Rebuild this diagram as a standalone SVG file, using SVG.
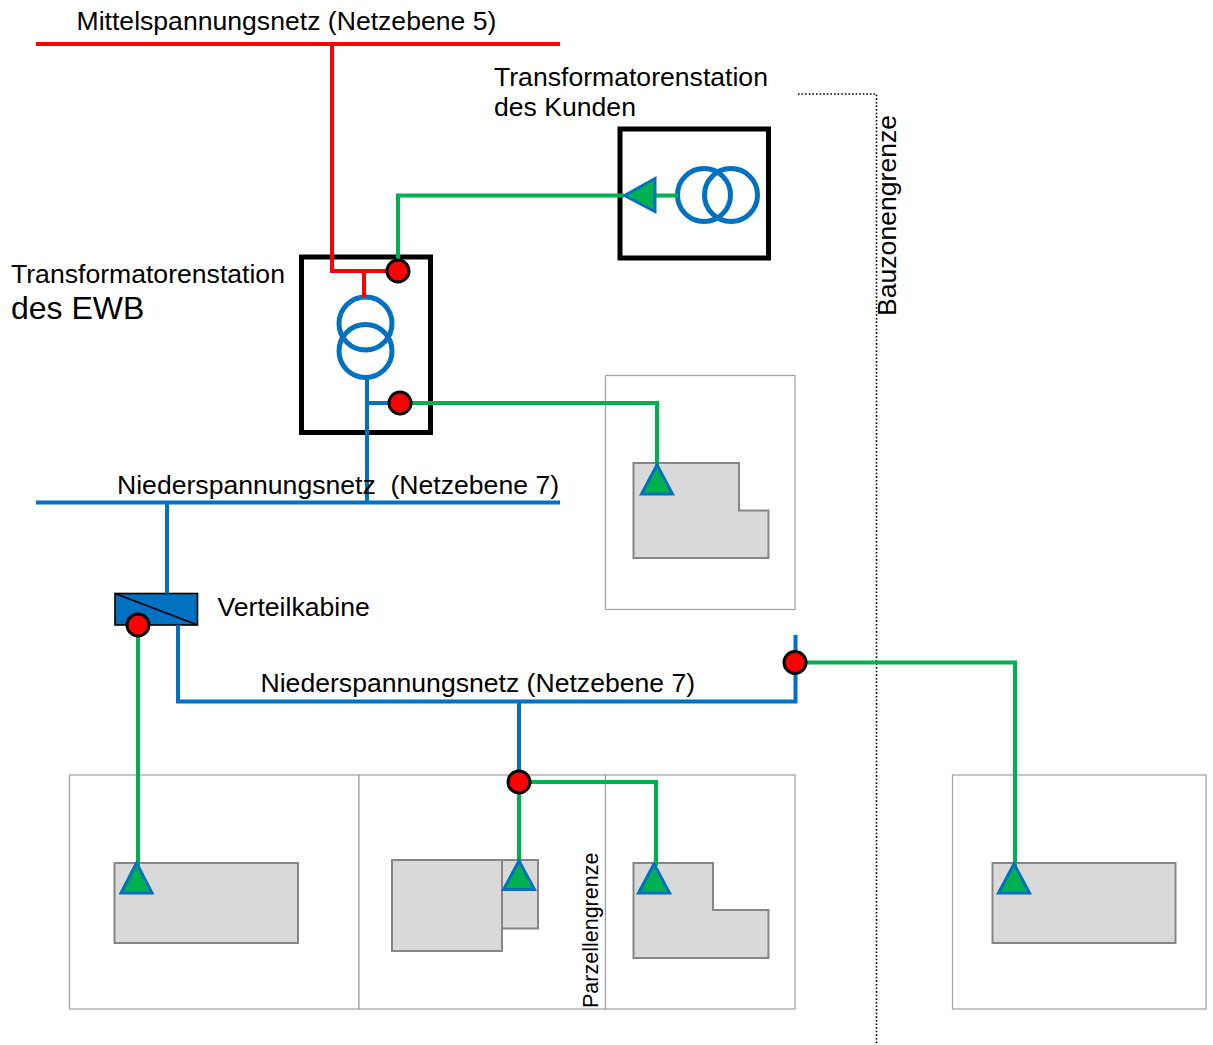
<svg xmlns="http://www.w3.org/2000/svg" width="1213" height="1045" viewBox="0 0 1213 1045">
<defs>
<style>
text{font-family:"Liberation Sans",Arial,sans-serif;font-size:26.6px;fill:#000}
.parcel{fill:#fff;stroke:#a6a6a6;stroke-width:1.3}
.bld{fill:#d9d9d9;stroke:#868686;stroke-width:2}
.station{fill:#fff;stroke:#000;stroke-width:5}
.coil{fill:none;stroke:#0070c0;stroke-width:5}
.red,.blue,.green{fill:none;stroke-width:4}
.red{stroke:#ff0000}.blue{stroke:#0070c0}.green{stroke:#00b050}
.tri{fill:#00b050;stroke:#0070c0;stroke-width:3;stroke-linejoin:miter}
.dot{fill:#ff0000;stroke:#000;stroke-width:3}
.border{fill:none;stroke:#000;stroke-width:1.6;stroke-dasharray:1.6 2}
</style>
</defs>
<g id="parcels">
<rect class="parcel" x="605.500" y="375.500" width="189.500" height="234"/>
<rect class="parcel" x="69.500" y="775" width="289.500" height="234"/>
<rect class="parcel" x="359" y="775" width="246.500" height="234"/>
<rect class="parcel" x="605.500" y="775" width="189.500" height="234"/>
<rect class="parcel" x="952.500" y="775" width="253.500" height="234"/>
</g>
<g id="buildings">
<path class="bld" d="M633.500 463H739V510.500H768.500V558H633.500Z"/>
<rect class="bld" x="114.500" y="863" width="183.500" height="80"/>
<path class="bld" d="M453 860H538V928.500H502V860"/>
<rect class="bld" x="392" y="860" width="110" height="91"/>
<path class="bld" d="M633.500 863H713V910H768.500V958H633.500Z"/>
<rect class="bld" x="992.500" y="863" width="183" height="80"/>
</g>
<path id="bauzonengrenze" class="border" d="M798 94H876.500V1045"/>
<g id="station-ewb">
<rect class="station" x="301.500" y="257" width="129" height="175.500"/>
<circle class="coil" cx="365.500" cy="323.500" r="26.500"/>
<circle class="coil" cx="365.500" cy="351" r="26.500"/>
</g>
<g id="station-kunde">
<rect class="station" x="620" y="129" width="148.500" height="129"/>
<circle class="coil" cx="704" cy="195" r="26.500"/>
<circle class="coil" cx="731" cy="195" r="26.500"/>
</g>
<g id="verteilkabine">
<rect x="115" y="593.500" width="82.500" height="31.500" fill="#0070c0" stroke="#000" stroke-width="1.600"/>
<path d="M115 593.500L197.500 625" stroke="#000" stroke-width="1.600" fill="none"/>
</g>
<g id="connectors">
<path class="red" d="M36 44H560"/>
<path class="red" d="M332 44V271H398M364 271V297"/>
<path class="green" d="M398 271V195.500H624M655 195.500H678"/>
<path class="blue" d="M367 378V502M367 403H400"/>
<path class="green" d="M400 403H657V468"/>
<path class="blue" d="M36 502.500H560"/>
<path class="blue" d="M167 502.500V593.500"/>
<path class="blue" d="M178 625V701.500H795.500V635"/>
<path class="blue" d="M519 701.500V782"/>
<path class="green" d="M138 625V866"/>
<path class="green" d="M519 782V862M519 782H656V866"/>
<path class="green" d="M795 662.500H1015V866"/>
</g>
<g id="markers">
<path class="tri" d="M624.500 195.500L655 178.500V211.500Z"/>
<path class="tri" d="M657 465L672.500 494H641.500Z"/>
<path class="tri" d="M136.500 863L152 893H121Z"/>
<path class="tri" d="M519 861L534.500 889.500H503.500Z"/>
<path class="tri" d="M654 864L669.500 893H638.500Z"/>
<path class="tri" d="M1014 864L1029.500 893H998.500Z"/>
<circle class="dot" cx="398" cy="271" r="11"/>
<circle class="dot" cx="400" cy="403" r="11"/>
<circle class="dot" cx="138" cy="625" r="11"/>
<circle class="dot" cx="795" cy="662.500" r="11"/>
<circle class="dot" cx="519" cy="782" r="11"/>
</g>
<g id="labels">
<text x="76.500" y="30">Mittelspannungsnetz (Netzebene 5)</text>
<text x="494" y="86">Transformatorenstation</text>
<text x="494" y="115.500">des Kunden</text>
<text x="11" y="283">Transformatorenstation</text>
<text x="11" y="319" style="font-size:32px">des EWB</text>
<text x="117" y="494" xml:space="preserve">Niederspannungsnetz  (Netzebene 7)</text>
<text x="217.500" y="616">Verteilkabine</text>
<text x="260.500" y="692">Niederspannungsnetz (Netzebene 7)</text>
<text transform="translate(896,316) rotate(-90)">Bauzonengrenze</text>
<text transform="translate(598,1008) rotate(-90)" style="font-size:21.500px">Parzellengrenze</text>
</g>
</svg>
